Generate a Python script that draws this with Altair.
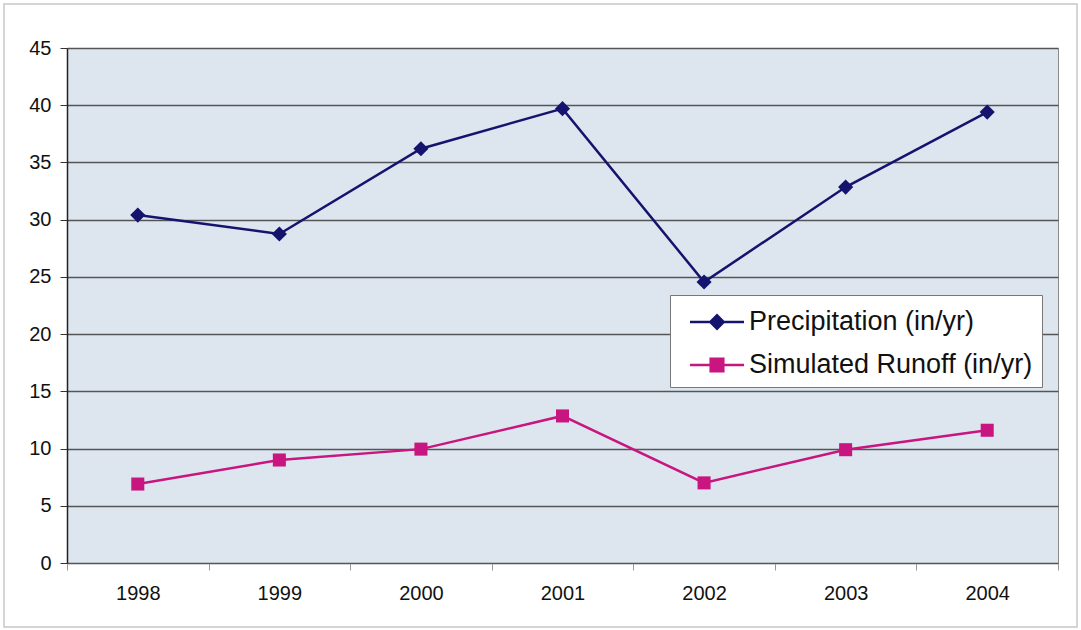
import altair as alt
import pandas as pd

years = ["1998", "1999", "2000", "2001", "2002", "2003", "2004"]
precip = [30.4, 28.75, 36.2, 39.7, 24.55, 32.85, 39.4]
runoff = [6.9, 9.0, 9.95, 12.85, 7.0, 9.9, 11.6]
series_names = ["Precipitation (in/yr)", "Simulated Runoff (in/yr)"]
y_ticks = [0, 5, 10, 15, 20, 25, 30, 35, 40, 45]

NAVY = "#14146e"
MAG = "#c8157f"

df = pd.DataFrame({
    "year": years * 2,
    "value": precip + runoff,
    "series": [series_names[0]] * len(years) + [series_names[1]] * len(years),
})

xenc = alt.X(
    "year:O",
    scale=alt.Scale(type="band", paddingInner=0, paddingOuter=0),
    bandPosition=0.5,
    axis=alt.Axis(title=None, labelAngle=0, tickBand="extent", grid=False,
                  domainColor="#555555", tickColor="#999999", tickSize=7,
                  labelPadding=13, labelFontSize=20, labelColor="#111111",
                  labelFont="Liberation Sans"),
)
yenc = alt.Y(
    "value:Q",
    scale=alt.Scale(domain=[0, 45], nice=False, zero=True),
    axis=alt.Axis(title=None, values=y_ticks, grid=True, gridColor="#555555",
                  gridWidth=1.3, domainColor="#222222", domainWidth=1.5,
                  tickColor="#333333", tickSize=7, labelPadding=9,
                  labelFontSize=20, labelColor="#111111",
                  labelFont="Liberation Sans"),
)

base = alt.Chart(df).encode(x=xenc, y=yenc)

line_p = base.transform_filter(alt.datum.series == series_names[0]).mark_line(
    color=NAVY, strokeWidth=2.5)
line_r = base.transform_filter(alt.datum.series == series_names[1]).mark_line(
    color=MAG, strokeWidth=2.5)
pts_p = base.transform_filter(alt.datum.series == series_names[0]).mark_point(
    shape="diamond", filled=True, color=NAVY, size=230, opacity=1)
pts_r = base.transform_filter(alt.datum.series == series_names[1]).mark_point(
    shape="square", filled=True, color=MAG, size=170, opacity=1)

path_p = ("M-1.5,-0.065L1.5,-0.065L1.5,0.065L-1.5,0.065Z "
          "M0,-0.47L0.47,0L0,0.47L-0.47,0Z")
path_r = ("M-1.5,-0.065L1.5,-0.065L1.5,0.065L-1.5,0.065Z "
          "M-0.42,-0.42L0.42,-0.42L0.42,0.42L-0.42,0.42Z")

leg = alt.Legend(
    title=None, orient="none", legendX=603, legendY=247,
    fillColor="white", strokeColor="#777777", padding=9, cornerRadius=0,
    symbolSize=1296, symbolOffset=20, labelOffset=14, labelFontSize=27,
    labelFont="Liberation Sans", labelColor="#111111", rowPadding=12,
    symbolStrokeWidth=0, symbolOpacity=1, labelLimit=0,
)

legend_layer = base.mark_point(filled=True, opacity=0).encode(
    color=alt.Color("series:N", scale=alt.Scale(domain=series_names, range=[NAVY, MAG]), legend=leg),
    shape=alt.Shape("series:N", scale=alt.Scale(domain=series_names, range=[path_p, path_r]), legend=leg),
)

frame = alt.Chart(pd.DataFrame({"a": [0]})).mark_rect(
    fill="transparent", stroke="#c8c8c8", strokeWidth=1.5
).encode(x=alt.value(-63), x2=alt.value(1010), y=alt.value(-44), y2=alt.value(579))

chart = alt.layer(frame, line_p, line_r, pts_p, pts_r, legend_layer).properties(
    width=991, height=515,
    autosize=alt.AutoSizeParams(type="none"),
    padding={"left": 67, "top": 48, "right": 23, "bottom": 67},
    background="white",
).configure_view(
    fill="#dde6ef", stroke="#8a8a8a", strokeWidth=1
)

chart.save("out.html", embed_options={"renderer": "svg", "actions": False})
